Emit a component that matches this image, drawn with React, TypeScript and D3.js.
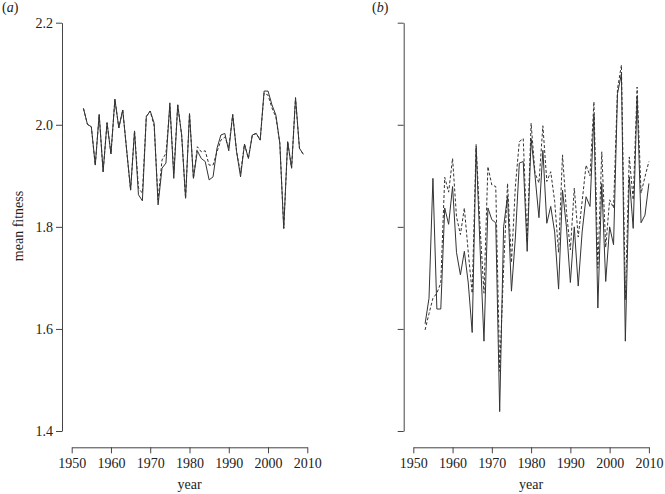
import { useEffect, useRef } from 'react';
import * as d3 from 'd3';

// panel (a): 1953-2009
const yearsA = d3.range(1953, 2010);
const solidA = [
  2.032, 2.001, 1.996, 1.921, 2.02, 1.908, 2.004, 1.943, 2.05, 1.994,
  2.029, 1.95, 1.872, 1.988, 1.863, 1.851, 2.016, 2.027, 2.003, 1.843,
  1.915, 1.925, 2.043, 1.895, 2.039, 1.98, 1.856, 2.022, 1.895, 1.949,
  1.934, 1.928, 1.892, 1.898, 1.954, 1.98, 1.983, 1.949, 2.02, 1.947,
  1.898, 1.962, 1.934, 1.98, 1.983, 1.97, 2.066, 2.066, 2.039, 2.019,
  1.964, 1.797, 1.967, 1.915, 2.053, 1.954, 1.942,
];
const dashedA = [
  2.032, 2.001, 1.996, 1.921, 2.02, 1.908, 2.004, 1.943, 2.05, 1.994,
  2.029, 1.95, 1.872, 1.988, 1.876, 1.866, 2.016, 2.027, 1.997, 1.853,
  1.931, 1.944, 2.035, 1.905, 2.039, 1.98, 1.856, 2.022, 1.895, 1.957,
  1.947, 1.949, 1.921, 1.921, 1.947, 1.97, 1.976, 1.955, 2.02, 1.947,
  1.905, 1.962, 1.934, 1.98, 1.983, 1.97, 2.062, 2.058, 2.033, 2.015,
  1.964, 1.797, 1.967, 1.915, 2.053, 1.954, 1.942,
];

// panel (b): 1953-2010
const yearsB = d3.range(1953, 2011);
const solidB = [
  1.61, 1.66, 1.895, 1.639, 1.639, 1.837, 1.805, 1.879, 1.75, 1.706,
  1.752, 1.69, 1.593, 1.955, 1.76, 1.576, 1.837, 1.814, 1.808, 1.438,
  1.8, 1.86, 1.674, 1.78, 1.925, 1.928, 1.752, 1.973, 1.9, 1.818,
  1.95, 1.807, 1.84, 1.79, 1.678, 1.872, 1.8, 1.691, 1.8, 1.684,
  1.79, 1.859, 1.84, 2.02, 1.641, 1.885, 1.693, 1.8, 1.765, 2.061,
  2.1, 1.576, 1.898, 1.797, 2.055, 1.808, 1.823, 1.885,
];
const dashedB = [
  1.598, 1.63, 1.66, 1.67, 1.69, 1.897, 1.868, 1.934, 1.82, 1.785,
  1.837, 1.75, 1.67, 1.962, 1.8, 1.67, 1.918, 1.882, 1.879, 1.517,
  1.72, 1.885, 1.73, 1.88, 1.967, 1.973, 1.77, 2.003, 1.905, 1.886,
  1.998, 1.889, 1.908, 1.85, 1.75, 1.941, 1.83, 1.755, 1.876, 1.78,
  1.85, 1.921, 1.9, 2.045, 1.719, 1.947, 1.76, 1.853, 1.837, 2.07,
  2.117, 1.657, 1.937, 1.853, 2.074, 1.866, 1.898, 1.928,
];

const yTicks = [1.4, 1.6, 1.8, 2.0, 2.2];
const xTicks = [1950, 1960, 1970, 1980, 1990, 2000, 2010];

const FONT = '"Liberation Serif", "DejaVu Serif", serif';

const App = () => {
  const ref = useRef<SVGSVGElement | null>(null);

  useEffect(() => {
    if (!ref.current) return;
    const svg = d3.select(ref.current);
    svg.selectAll('*').remove();

    const y = d3.scaleLinear().domain([1.4, 2.2]).range([431, 22.7]);

    const panels = [
      { label: 'a', x0: 71.7, axisX: 62, years: yearsA, solid: solidA, dashed: dashedA, yLabels: true, labelX: 2 },
      { label: 'b', x0: 413.3, axisX: 403.7, years: yearsB, solid: solidB, dashed: dashedB, yLabels: false, labelX: 372 },
    ];

    panels.forEach((p) => {
      const x = d3.scaleLinear().domain([1950, 2010]).range([p.x0, p.x0 + 235.6]);
      const g = svg.append('g');

      const ya = g
        .append('g')
        .attr('transform', `translate(${p.axisX},0)`)
        .call(
          d3
            .axisLeft(y)
            .tickValues(yTicks)
            .tickSize(6)
            .tickSizeOuter(0)
            .tickPadding(3)
            .tickFormat((d) => (p.yLabels ? d3.format('.1f')(d as number) : ''))
        );

      const xa = g
        .append('g')
        .attr('transform', `translate(0,447.3)`)
        .call(
          d3
            .axisBottom(x)
            .tickValues(xTicks)
            .tickSize(6)
            .tickSizeOuter(0)
            .tickPadding(5)
            .tickFormat(d3.format('d'))
        );

      [ya, xa].forEach((a) => {
        a.selectAll('path, line').attr('stroke', '#444').attr('stroke-width', 1);
        a.selectAll('text').attr('font-family', FONT).attr('font-size', 14).attr('fill', '#222');
      });

      const line = d3
        .line<number>()
        .x((_, i) => x(p.years[i]))
        .y((d) => y(d));

      g.append('path')
        .datum(p.dashed)
        .attr('fill', 'none')
        .attr('stroke', '#333')
        .attr('stroke-width', 1)
        .attr('stroke-dasharray', '3,2')
        .attr('d', line);

      g.append('path')
        .datum(p.solid)
        .attr('fill', 'none')
        .attr('stroke', '#333')
        .attr('stroke-width', 1)
        .attr('d', line);

      g.append('text')
        .attr('x', (x(1950) + x(2010)) / 2)
        .attr('y', 489)
        .attr('text-anchor', 'middle')
        .attr('font-family', FONT)
        .attr('font-size', 14)
        .attr('fill', '#222')
        .text('year');

      const lab = g
        .append('text')
        .attr('x', p.labelX)
        .attr('y', 12)
        .attr('font-family', FONT)
        .attr('font-size', 14)
        .attr('fill', '#222');
      lab.append('tspan').text('(');
      lab.append('tspan').attr('font-style', 'italic').text(p.label);
      lab.append('tspan').text(')');
    });

    svg
      .append('text')
      .attr('transform', 'translate(23,226) rotate(-90)')
      .attr('text-anchor', 'middle')
      .attr('font-family', FONT)
      .attr('font-size', 14)
      .attr('fill', '#222')
      .text('mean fitness');
  }, []);

  return (
    <svg
      ref={ref}
      width={665}
      height={494}
      style={{ position: 'absolute', left: 0, top: 0, background: '#fff' }}
    />
  );
};

export default App;
